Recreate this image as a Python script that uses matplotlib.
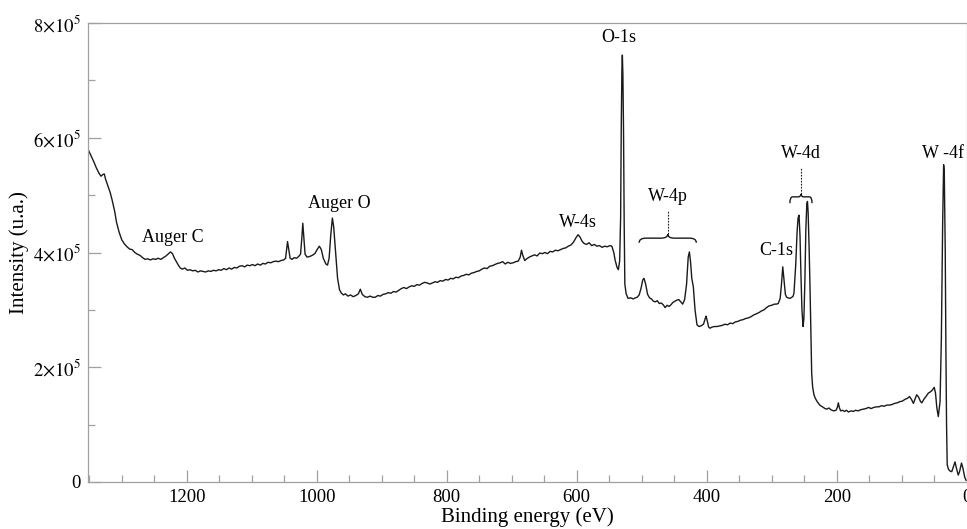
import matplotlib
matplotlib.use("Agg")
import matplotlib.pyplot as plt
from matplotlib.path import Path
from matplotlib.patches import PathPatch
import numpy as np

# XPS survey spectrum (binding energy in eV, intensity in units of 1e5)
energy_ev = [
    1352, 1347, 1343, 1339, 1335, 1332, 1329, 1327, 1325, 1322, 1318, 1315, 1311, 1308, 1304, 1300,
    1296, 1292, 1288, 1284, 1280, 1276, 1272, 1268, 1264, 1260, 1256, 1252, 1248, 1244, 1240, 1236,
    1232, 1228, 1225, 1222, 1219, 1216, 1213, 1210, 1207, 1203, 1199, 1195, 1191, 1187, 1183, 1179,
    1175, 1171, 1167, 1163, 1159, 1155, 1151, 1147, 1143, 1139, 1135, 1131, 1127, 1123, 1119, 1115,
    1111, 1107, 1103, 1099, 1095, 1091, 1087, 1083, 1079, 1075, 1071, 1067, 1063, 1059, 1055, 1051,
    1048, 1046, 1045, 1043, 1041, 1038, 1035, 1031, 1028, 1025, 1023, 1021.5, 1020, 1018, 1015, 1011,
    1007, 1003, 999, 996, 993, 990, 986, 983.5, 981, 978.5, 976, 974, 971, 968, 965, 962,
    959, 956, 952, 948, 944, 940, 936, 933, 930, 926, 922, 918, 914, 910, 906, 902,
    898, 894, 890, 886, 882, 878, 874, 870, 866, 862, 858, 854, 850, 846, 842, 838,
    834, 830, 826, 822, 818, 814, 810, 806, 802, 798, 794, 790, 786, 782, 778, 774,
    770, 766, 762, 758, 754, 750, 746, 742, 738, 734, 730, 726, 722, 718, 714, 710,
    706, 702, 698, 694, 690, 687, 685, 683, 680, 677, 673, 669, 665, 661, 657, 653,
    649, 645, 641, 637, 633, 629, 625, 621, 617, 613, 609, 605, 601, 598, 595, 592,
    589, 585, 581, 577, 573, 569, 565, 561, 557, 553, 549, 546, 543, 541, 538, 536,
    534, 532.5, 531.5, 530.5, 529.8, 529, 528, 527, 526, 524, 521, 517, 513, 510, 507, 504,
    501, 498.5, 496.5, 494, 491, 488, 485, 482, 479, 476, 473, 470, 467, 464, 461, 458,
    455, 452, 449, 446, 443, 440, 437, 434, 431, 428.5, 426.7, 425, 423, 420.6, 418, 415,
    412, 409, 405, 402, 401, 399, 397, 395, 392, 388, 384, 380, 376, 372, 368, 364,
    360, 356, 352, 348, 344, 340, 336, 332, 328, 324, 320, 316, 312, 308, 304, 300,
    296, 293, 290, 287, 285, 283, 281, 279, 277, 275, 272, 269, 267, 265.7, 263, 261,
    259.5, 258, 256.5, 255, 253.5, 251.8, 250.5, 249, 247.5, 246, 245, 244, 242.5, 241, 239.5, 238.5,
    237, 235, 233, 230, 226, 222, 218, 215, 212, 209, 205, 201, 199, 197.5, 196, 194,
    191, 188, 185, 182, 178, 174.5, 171, 167, 163, 159, 155, 151, 147, 143, 139, 135,
    131, 127, 123, 119, 115, 111, 107, 103, 99, 95, 91, 88, 85, 82, 80, 77,
    74, 71, 69, 66, 62, 59, 56, 53, 50, 48, 46, 43.7, 41, 39, 37, 35.5,
    34.5, 33, 32, 31, 30, 28, 25.5, 23, 21, 18, 16, 13, 11, 8, 6, 3,
    1,
]
intensity_e5 = [
    5.80, 5.68, 5.58, 5.47, 5.38, 5.33, 5.36, 5.37, 5.28, 5.18, 5.05, 4.92, 4.72, 4.52, 4.35, 4.22,
    4.15, 4.10, 4.06, 4.05, 4.00, 3.97, 3.95, 3.91, 3.88, 3.89, 3.87, 3.89, 3.88, 3.90, 3.88, 3.91,
    3.94, 3.98, 4.01, 3.98, 3.90, 3.84, 3.78, 3.73, 3.71, 3.73, 3.69, 3.70, 3.68, 3.69, 3.66, 3.68,
    3.67, 3.66, 3.68, 3.67, 3.69, 3.68, 3.70, 3.69, 3.72, 3.70, 3.73, 3.71, 3.74, 3.73, 3.76, 3.77,
    3.75, 3.78, 3.77, 3.79, 3.77, 3.80, 3.78, 3.81, 3.80, 3.83, 3.82, 3.84, 3.85, 3.84, 3.86, 3.87,
    3.90, 4.10, 4.19, 4.05, 3.90, 3.88, 3.91, 3.90, 3.93, 3.97, 4.25, 4.51, 4.28, 3.97, 3.92, 3.93,
    3.95, 3.98, 4.06, 4.11, 4.05, 3.90, 3.80, 3.78, 3.90, 4.30, 4.60, 4.45, 4.00, 3.55, 3.35, 3.29,
    3.26, 3.28, 3.24, 3.26, 3.23, 3.25, 3.28, 3.36, 3.27, 3.23, 3.22, 3.24, 3.22, 3.22, 3.25, 3.24,
    3.27, 3.28, 3.30, 3.29, 3.32, 3.31, 3.34, 3.37, 3.39, 3.37, 3.40, 3.42, 3.41, 3.44, 3.43, 3.46,
    3.48, 3.47, 3.45, 3.47, 3.49, 3.48, 3.51, 3.50, 3.53, 3.52, 3.55, 3.54, 3.57, 3.56, 3.59, 3.60,
    3.62, 3.61, 3.64, 3.65, 3.67, 3.68, 3.71, 3.73, 3.72, 3.76, 3.77, 3.79, 3.81, 3.82, 3.84, 3.80,
    3.83, 3.81, 3.82, 3.84, 3.85, 3.92, 4.04, 3.95, 3.86, 3.89, 3.92, 3.94, 3.96, 3.94, 3.99, 3.98,
    4.00, 3.98, 4.02, 4.01, 4.04, 4.03, 4.05, 4.07, 4.08, 4.11, 4.13, 4.18, 4.26, 4.31, 4.27, 4.20,
    4.16, 4.14, 4.17, 4.12, 4.14, 4.11, 4.12, 4.09, 4.11, 4.10, 4.12, 4.11, 4.00, 3.87, 3.74, 3.70,
    3.85, 4.60, 6.20, 7.20, 7.44, 7.10, 6.10, 4.50, 3.45, 3.28, 3.20, 3.21, 3.19, 3.21, 3.22, 3.26,
    3.38, 3.52, 3.55, 3.45, 3.27, 3.21, 3.19, 3.15, 3.14, 3.16, 3.11, 3.12, 3.09, 3.04, 3.08, 3.06,
    3.09, 3.13, 3.15, 3.17, 3.18, 3.14, 3.10, 3.18, 3.45, 3.92, 4.01, 3.85, 3.55, 3.40, 3.00, 2.74,
    2.71, 2.72, 2.75, 2.86, 2.89, 2.80, 2.70, 2.68, 2.70, 2.71, 2.71, 2.72, 2.73, 2.75, 2.74, 2.77,
    2.76, 2.79, 2.80, 2.82, 2.83, 2.85, 2.86, 2.88, 2.91, 2.93, 2.95, 2.98, 3.00, 3.04, 3.07, 3.08,
    3.10, 3.10, 3.11, 3.20, 3.45, 3.75, 3.50, 3.27, 3.22, 3.21, 3.20, 3.22, 3.24, 3.30, 3.80, 4.35,
    4.60, 4.65, 4.30, 3.60, 3.00, 2.71, 2.85, 3.50, 4.40, 4.85, 4.89, 4.70, 4.10, 3.35, 2.50, 1.89,
    1.65, 1.52, 1.46, 1.40, 1.34, 1.31, 1.28, 1.27, 1.29, 1.26, 1.24, 1.25, 1.30, 1.38, 1.30, 1.24,
    1.25, 1.23, 1.25, 1.22, 1.24, 1.23, 1.25, 1.24, 1.26, 1.27, 1.28, 1.30, 1.28, 1.30, 1.31, 1.31,
    1.33, 1.32, 1.34, 1.34, 1.35, 1.37, 1.38, 1.40, 1.41, 1.44, 1.46, 1.49, 1.44, 1.37, 1.43, 1.52,
    1.48, 1.40, 1.38, 1.44, 1.50, 1.55, 1.57, 1.60, 1.65, 1.55, 1.30, 1.14, 1.40, 2.50, 4.50, 5.53,
    5.40, 4.00, 2.30, 1.00, 0.30, 0.22, 0.19, 0.18, 0.25, 0.35, 0.25, 0.12, 0.18, 0.33, 0.25, 0.08,
    0.03,
]

# peak labels: (text, energy, intensity in 1e5)
peak_labels = ["Auger C", "Auger O", "W-4s", "O-1s", "W-4p", "C-1s", "W-4d", "W -4f"]
label_energy = [1222, 966, 598, 536, 460, 293, 255, 36]
label_height = [4.27, 4.85, 4.53, 7.74, 4.97, 4.03, 5.72, 5.72]

# brace groups for W-4p and W-4d
brace_left = [504, 272]
brace_right = [416, 238]
brace_level = [4.25, 4.97]
brace_tip = [4.32, 5.02]
brace_end = [4.17, 4.86]
brace_line_top = [4.74, 5.49]

xticks = [1200, 1000, 800, 600, 400, 200, 0]
yticks = [0, 2e5, 4e5, 6e5, 8e5]
ytick_labels = ["0", r"$2{\times}10^5$", r"$4{\times}10^5$", r"$6{\times}10^5$", r"$8{\times}10^5$"]

plt.rcParams["font.family"] = ["Liberation Serif", "DejaVu Serif"]
plt.rcParams["mathtext.fontset"] = "stix"

spine_grey = "#a0a0a0"

fig = plt.figure(figsize=(9.67, 5.29), dpi=100)
ax = fig.add_axes([88 / 967, 1 - 482 / 529, (966.7 - 88) / 967, (482 - 23) / 529])

counts = np.array(intensity_e5) * 1e5
ax.plot(energy_ev, counts, color="#1a1a1a", lw=1.0)

ax.set_xlim(1352, 0)
ax.set_ylim(0, 8e5)
ax.set_xticks(xticks)
ax.set_xticks(np.arange(0, 1351, 50), minor=True)
ax.set_yticks(yticks)
ax.set_yticklabels(ytick_labels)
ax.set_yticks(np.arange(0, 8e5 + 1, 1e5), minor=True)

for s in ax.spines.values():
    s.set_color(spine_grey)
    s.set_linewidth(0.9)
ax.tick_params(which="both", direction="in", color=spine_grey, width=0.9,
               labelsize=13.5, top=False, right=False)
ax.tick_params(which="major", length=9, pad=5)
ax.tick_params(which="minor", length=5)

ax.set_xlabel("Binding energy (eV)", fontsize=15, labelpad=1)
ax.set_ylabel("Intensity (u.a.)", fontsize=15, labelpad=3)

for txt, xe, yh in zip(peak_labels, label_energy, label_height):
    ax.text(xe, yh * 1e5, txt, ha="center", va="center", fontsize=13)


def draw_brace(x1, x2, y0, ytip, yend):
    xm = (x1 + x2) / 2
    q = abs(x2 - x1) * 0.12
    verts = [(x1, yend), (x1, y0), (x1 - q, y0), (xm + q, y0), (xm, y0), (xm, ytip),
             (xm, y0), (xm - q, y0), (x2 + q, y0), (x2, y0), (x2, yend)]
    codes = [Path.MOVETO, Path.CURVE3, Path.CURVE3, Path.LINETO, Path.CURVE3, Path.CURVE3,
             Path.CURVE3, Path.CURVE3, Path.LINETO, Path.CURVE3, Path.CURVE3]
    ax.add_patch(PathPatch(Path(verts, codes), fill=False, lw=1.0, color="#1a1a1a"))
    return xm


for x1, x2, y0, yt, ye, ytop in zip(brace_left, brace_right, brace_level, brace_tip,
                                    brace_end, brace_line_top):
    xm = draw_brace(x1, x2, y0 * 1e5, yt * 1e5, ye * 1e5)
    ax.plot([xm, xm], [yt * 1e5, ytop * 1e5], color="#1a1a1a", lw=0.8, ls=(0, (1.5, 1.2)))

fig.savefig("out.png", dpi=100)
